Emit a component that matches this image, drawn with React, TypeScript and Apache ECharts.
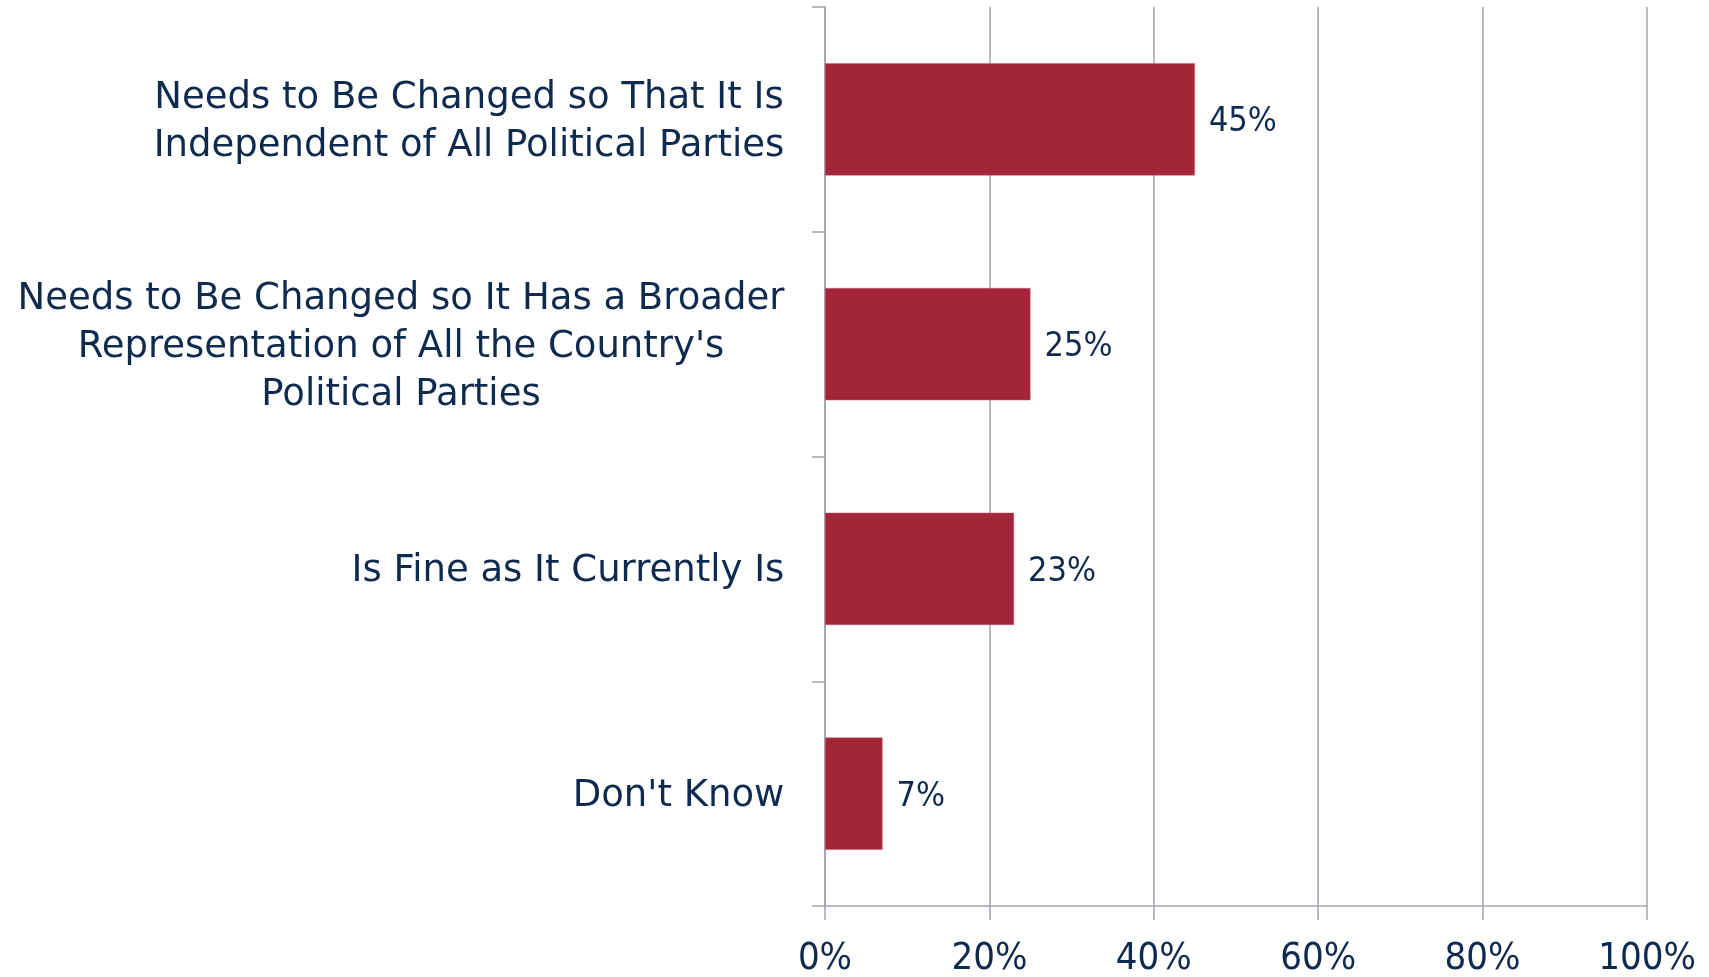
import React, { useEffect, useRef } from "react";
import * as echarts from "echarts";

const categories = [
  "Needs to Be Changed so That It Is\nIndependent of All Political Parties",
  "Needs to Be Changed so It Has a Broader\nRepresentation of All the Country's\nPolitical Parties",
  "Is Fine as It Currently Is",
  "Don't Know",
];
const values = [45, 25, 23, 7];
const xTicks = [0, 20, 40, 60, 80, 100];

const NAVY = "#0E2A4E";
const BAR = "#A22538";
const GRID = "#A3A3AC";
const CAT_FONT = "'DejaVu Sans', sans-serif";
const COND_FONT = "'DejaVu Sans Condensed', 'DejaVu Sans', sans-serif";
const CAT_SIZE = 37;

function measure(text: string, font: string): number {
  const c = document.createElement("canvas");
  const ctx = c.getContext("2d");
  if (!ctx) return text.length * 20;
  ctx.font = font;
  return ctx.measureText(text).width;
}

export default function App() {
  const ref = useRef<HTMLDivElement>(null);
  useEffect(() => {
    if (!ref.current) return;
    const chart = echarts.init(ref.current, undefined, { renderer: "svg" });
    const rich: Record<string, any> = {};
    categories.forEach((cat, i) => {
      const w = Math.max(
        ...cat.split("\n").map((l) => measure(l, `${CAT_SIZE}px ${CAT_FONT}`))
      );
      rich["c" + i] = {
        width: Math.ceil(w) + 1,
        align: "center",
        color: NAVY,
        fontSize: CAT_SIZE,
        fontFamily: CAT_FONT,
        lineHeight: 48,
      };
    });
    chart.setOption({
      animation: false,
      grid: { left: 825, right: 62, top: 7, bottom: 71, containLabel: false },
      xAxis: {
        type: "value",
        min: 0,
        max: 100,
        interval: 20,
        axisLine: { show: true, lineStyle: { color: GRID, width: 1.5 } },
        axisTick: { show: true, length: 14, lineStyle: { color: GRID, width: 1.5 } },
        splitLine: { show: true, lineStyle: { color: GRID, width: 1.5 } },
        axisLabel: {
          formatter: (v: number) => (xTicks.includes(v) ? v + "%" : ""),
          color: NAVY,
          fontSize: 38,
          lineHeight: 38,
          fontFamily: COND_FONT,
          margin: 31,
        },
      },
      yAxis: {
        type: "category",
        data: categories,
        inverse: true,
        axisLine: { show: true, lineStyle: { color: GRID, width: 1.5 } },
        axisTick: { show: true, length: 13, alignWithLabel: false, lineStyle: { color: GRID, width: 1.5 } },
        axisLabel: {
          color: NAVY,
          fontSize: CAT_SIZE,
          lineHeight: 48,
          fontFamily: CAT_FONT,
          margin: 40,
          align: "right",
          formatter: (v: string, i: number) =>
            v
              .split("\n")
              .map((l) => `{c${i}|${l}}`)
              .join("\n"),
          rich,
        },
      },
      series: [
        {
          type: "bar",
          data: values,
          barCategoryGap: "50%",
          itemStyle: { color: BAR, borderColor: "#C4697A", borderWidth: 0.5 },
          label: {
            show: true,
            position: "right",
            distance: 14,
            formatter: "{c}%",
            color: NAVY,
            fontSize: 34,
            fontFamily: COND_FONT,
          },
        },
      ],
    });
    return () => chart.dispose();
  }, []);
  return (
    <div
      ref={ref}
      style={{ position: "fixed", left: 0, top: 0, width: 1709, height: 977 }}
    />
  );
}
